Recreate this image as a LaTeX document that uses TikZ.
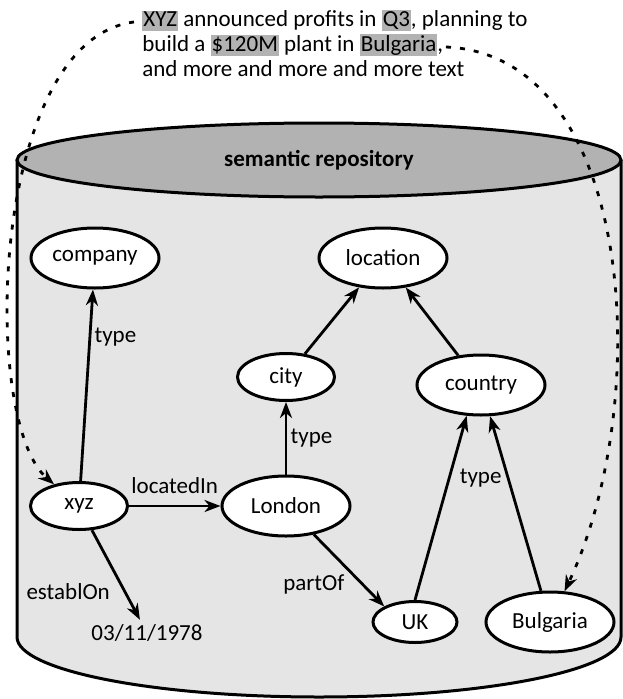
\documentclass[tikz,border=0pt]{standalone}
\usepackage{fontspec}
\setmainfont{Carlito}
\usetikzlibrary{arrows,arrows.meta,shapes.geometric}

\definecolor{lidgray}{gray}{0.7}
\definecolor{bodygray}{gray}{0.9}
\definecolor{hlgray}{gray}{0.7}
\newcommand{\hlword}[1]{{\setlength{\fboxsep}{1pt}\colorbox{hlgray}{\vphantom{Bg}#1}}}

\begin{document}
\begin{tikzpicture}[x=1pt,y=-1pt,>={Stealth[length=16pt,width=12pt,inset=5pt]},line width=2.8pt,
    font=\fontsize{23}{25}\selectfont,
    concept/.style={ellipse,draw,fill=white,line width=3pt,inner sep=0pt,
      minimum width=128pt,minimum height=60pt},
    smallconcept/.style={concept,minimum width=97pt,minimum height=47pt},
    dottedlink/.style={line width=2.8pt,dash pattern=on 5pt off 9pt}]
    \useasboundingbox (0,0) rectangle (623,699);

    % repository cylinder
    \fill[bodygray] (17,160) -- (17,637)
        arc[start angle=180,end angle=0,x radius=302,y radius=60] -- (621,160) -- cycle;
    \draw[line width=3pt] (17,160) -- (17,637)
        arc[start angle=180,end angle=0,x radius=302,y radius=60] -- (621,160);
    \draw[line width=3pt,fill=lidgray] (319,160) ellipse[x radius=302,y radius=37];
    \node[font=\fontsize{23}{25}\selectfont\bfseries] (repo) at (319,160) {semantic repository};

    % the text
    \node[anchor=north west,align=left,inner sep=0pt] (news) at (141,9)
        {\hlword{XYZ} announced profits in \hlword{Q3}, planning to\\
         build a \hlword{\$120M} plant in \hlword{Bulgaria},\\
         and more and more and more text};
    \coordinate (fromxyz) at (134,22);
    \coordinate (frombg) at (446,47);

    % concepts
    \node[concept] (company)  at (95,258)  {company};
    \node[concept] (location) at (383,258) {location};
    \node[smallconcept] (city) at (286,377) {city};
    \node[concept] (country)  at (481,385) {country};
    \node[smallconcept] (xyz) at (79,506)  {xyz};
    \node[concept] (london)   at (286,506) {London};
    \node[smallconcept,minimum width=84pt,minimum height=41pt] (uk) at (415,622) {UK};
    \node[concept] (bulgaria) at (550,622) {Bulgaria};
    \node (date) at (147,633) {03/11/1978};

    \path[->]
        (xyz) edge node[right,pos=0.75] {type} (company)
              edge node[above=8pt] {locatedIn} (london)
              edge node[left=10pt,pos=0.68] {establOn} (date)
        (london) edge node[right] {type} (city)
                 edge node[below left] {partOf} (uk.north west)
        (city) edge (location)
        (country) edge (location)
        (uk.north) edge node[right=6pt,pos=0.66] {type} (country.245)
        (bulgaria) edge (country)
        ;

    % links from the text
    \draw[dottedlink,->] (fromxyz) .. controls (-10,40) and (-20,420) .. (xyz);
    \draw[dottedlink,->] (frombg) .. controls (635,55) and (655,400) .. (bulgaria);
\end{tikzpicture}
\end{document}
